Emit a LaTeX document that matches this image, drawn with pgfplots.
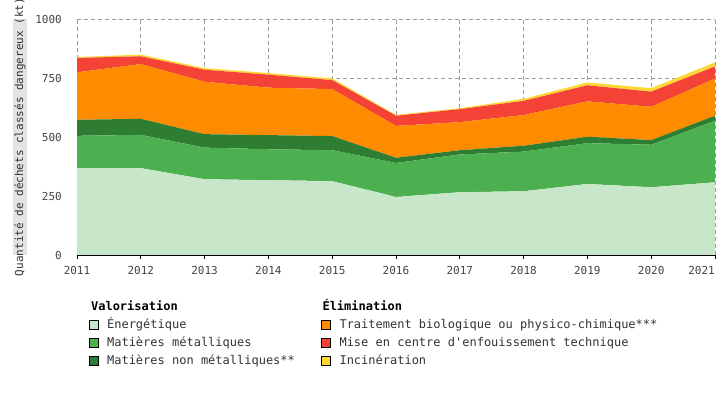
\documentclass[border=0pt]{standalone}
\usepackage{pgfplots}
\pgfplotsset{compat=1.18}
\usepackage{fontspec}
\setmainfont{DejaVu Sans Mono}
\newfontfamily\plainmono{DejaVu Sans Mono}

\definecolor{energ}{HTML}{C8E6C9}
\definecolor{metal}{HTML}{4CAF50}
\definecolor{nonmetal}{HTML}{2E7D32}
\definecolor{traitement}{HTML}{FF8C00}
\definecolor{enfouis}{HTML}{F44336}
\definecolor{incin}{HTML}{FDD835}
\definecolor{ticktext}{HTML}{444444}
\definecolor{legtext}{HTML}{333333}
\definecolor{labelbg}{HTML}{E3E3E3}
\definecolor{gridgray}{HTML}{999999}

\begin{document}
\begin{tikzpicture}
    \path[use as bounding box] (0bp,0bp) rectangle (725bp,400bp);
    \begin{axis}[
        name = ax,
        at = {(77bp,145bp)},
        anchor = south west,
        scale only axis,
        width = 638bp,
        height = 236bp,
        xmin = 2011, xmax = 2021,
        ymin = 0, ymax = 1000,
        xtick = {2011,2012,...,2020},
        extra x ticks = {2021},
        extra x tick style = {grid=major,
            tick label style={anchor=north east, xshift=0bp}},
        ytick = {0,250,500,750,1000},
        /pgf/number format/assume math mode=true,
        /pgf/number format/set thousands separator={},
        stack plots = y,
        axis x line* = bottom,
        axis y line* = left,
        y axis line style = {draw=none},
        x axis line style = {black, line width=0.8bp},
        tick align = outside,
        major tick length = 4bp,
        x tick style = {black, line width=0.8bp},
        y tick style = {draw=none},
        grid = major,
        major grid style = {gridgray, line width=0.7bp, dash pattern=on 4bp off 3bp},
        tick label style = {font=\plainmono\fontsize{11bp}{13bp}\selectfont, text=ticktext},
        x tick label style = {inner sep=0pt, yshift=-7bp},
        y tick label style = {inner sep=0pt, xshift=-11bp},
        legend columns = 2,
        legend cell align = left,
        legend style = {
            at = {(0.0188,-0.1950)}, anchor = north west,
            draw = none, fill = none, inner sep = 0pt, outer sep = 0pt,
            font = \plainmono\fontsize{12bp}{14bp}\selectfont, text = legtext,
            row sep = 6bp, column sep = 0bp,
            nodes = {inner sep=0pt, text height=9bp, text depth=3bp},
            /tikz/every odd column/.append style = {column sep=8.7bp},
            /tikz/every even column/.append style = {column sep=26.5bp},
        },
        legend image code/.code = {\fill[#1] (0bp,-4.5bp) rectangle (9bp,4.5bp);},
    ]

        % Valorisation
        \addplot[fill=energ, draw=none, forget plot] coordinates
            {(2011,368) (2012,368) (2013,321) (2014,317) (2015,313) (2016,246)
             (2017,266) (2018,270) (2019,301) (2020,287) (2021,308)} \closedcycle;
        \addplot[fill=metal, draw=none, forget plot] coordinates
            {(2011,137) (2012,141) (2013,134) (2014,131) (2015,131) (2016,144)
             (2017,160) (2018,168) (2019,173) (2020,180) (2021,261)} \closedcycle;
        \addplot[fill=nonmetal, draw=none, forget plot] coordinates
            {(2011,68) (2012,68) (2013,57) (2014,60) (2015,60) (2016,22)
             (2017,18) (2018,25) (2019,27) (2020,20) (2021,21)} \closedcycle;
        % Elimination
        \addplot[fill=traitement, draw=none, forget plot] coordinates
            {(2011,201) (2012,232) (2013,222) (2014,201) (2015,199) (2016,135)
             (2017,119) (2018,130) (2019,150) (2020,141) (2021,158)} \closedcycle;
        \addplot[fill=enfouis, draw=none, forget plot] coordinates
            {(2011,61) (2012,33) (2013,51) (2014,55) (2015,38) (2016,43)
             (2017,55) (2018,60) (2019,68) (2020,64) (2021,51)} \closedcycle;
        \addplot[fill=incin, draw=none, forget plot] coordinates
            {(2011,4) (2012,7) (2013,7) (2014,7) (2015,7) (2016,4)
             (2017,4) (2018,9) (2019,12) (2020,15) (2021,17)} \closedcycle;

        % legend, two groups
        \addlegendimage{empty legend}
        \addlegendentry{\hspace*{-16bp}\textcolor{black}{\textbf{Valorisation}}}
        \addlegendimage{empty legend}
        \addlegendentry{\hspace*{-17bp}\textcolor{black}{\textbf{Élimination}}}
        \addlegendimage{fill=energ}
        \addlegendentry{Énergétique}
        \addlegendimage{fill=traitement}
        \addlegendentry{Traitement biologique ou physico-chimique***}
        \addlegendimage{fill=metal}
        \addlegendentry{Matières métalliques}
        \addlegendimage{fill=enfouis}
        \addlegendentry{Mise en centre d'enfouissement technique}
        \addlegendimage{fill=nonmetal}
        \addlegendentry{Matières non métalliques**}
        \addlegendimage{fill=incin}
        \addlegendentry{Incinération}

    \end{axis}
    \fill[labelbg] ([xshift=-64bp]ax.south west) rectangle ([xshift=-50bp]ax.north west);
    \node[rotate=90, text=legtext, font=\plainmono\fontsize{11bp}{13bp}\selectfont, inner sep=0pt]
        at ([xshift=-57bp]ax.west) {Quantité de déchets classés dangereux (kt)};
\end{tikzpicture}
\end{document}
